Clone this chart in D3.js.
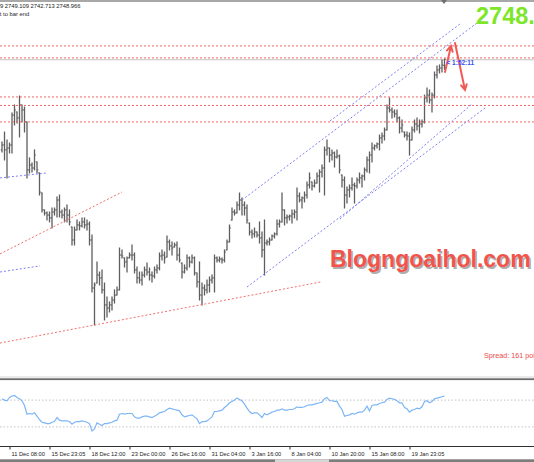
<!DOCTYPE html>
<html>
<head>
<meta charset="utf-8">
<script src="https://cdn.jsdelivr.net/npm/d3@7/dist/d3.min.js"></script>
<style>
  body { margin: 0; background: #fff; }
  svg { display: block; }
</style>
</head>
<body>
<div class="chart"></div>
<script>
// XAUUSD H4 bars (open / high / low / close)
var opens = [
  2692.3, 2695.4, 2692.3, 2693.5, 2695.4, 2714.1, 2716.0, 2712.3, 2720.4, 2717.3,
  2709.8, 2679.8, 2682.9, 2681.0, 2684.8, 2677.9, 2665.4, 2654.8, 2652.9, 2651.6,
  2649.8, 2653.5, 2654.8, 2661.0, 2653.5, 2651.6, 2654.8, 2651.6, 2644.1, 2636.0,
  2642.3, 2645.4, 2644.8, 2647.3, 2645.4, 2646.0, 2636.0, 2606.0, 2609.1, 2614.1,
  2612.3, 2604.8, 2595.4, 2593.5, 2595.4, 2598.5, 2601.6, 2604.8, 2626.6, 2624.8,
  2622.3, 2624.8, 2626.6, 2626.6, 2617.3, 2612.3, 2611.0, 2614.1, 2617.3, 2616.0,
  2614.1, 2613.5, 2617.3, 2618.5, 2626.0, 2626.6, 2625.4, 2634.8, 2632.3, 2631.6,
  2632.9, 2626.6, 2621.6, 2616.0, 2618.5, 2624.8, 2622.3, 2624.8, 2615.4, 2609.8,
  2601.6, 2606.0, 2604.8, 2607.9, 2611.0, 2612.3, 2624.8, 2623.5, 2624.1, 2623.5,
  2629.8, 2634.8, 2648.5, 2653.5, 2652.9, 2657.9, 2661.0, 2657.9, 2656.0, 2646.6,
  2641.0, 2639.8, 2641.0, 2639.1, 2637.3, 2629.8, 2634.1, 2634.8, 2636.0, 2638.5,
  2639.8, 2646.0, 2647.3, 2654.8, 2649.8, 2650.4, 2651.0, 2652.3, 2653.5, 2663.5,
  2661.0, 2662.3, 2664.1, 2670.4, 2672.3, 2669.8, 2671.6, 2676.0, 2678.5, 2681.0,
  2692.3, 2693.5, 2689.1, 2690.4, 2687.9, 2688.5, 2676.6, 2673.5, 2664.1, 2667.3,
  2668.5, 2670.4, 2669.8, 2673.5, 2674.8, 2676.0, 2679.8, 2686.0, 2689.1, 2693.5,
  2694.8, 2696.0, 2699.8, 2701.0, 2704.8, 2718.5, 2717.3, 2716.0, 2714.8, 2712.3,
  2706.0, 2703.5, 2701.6, 2701.0, 2698.5, 2704.8, 2708.5, 2707.3, 2708.5, 2709.8,
  2724.8, 2726.6, 2723.5, 2726.6, 2739.1, 2742.3, 2743.5, 2745.109
];
var highs = [
  2697.3, 2703.5, 2698.5, 2696.6, 2715.4, 2720.4, 2716.0, 2726.0, 2720.4, 2719.1,
  2709.8, 2687.3, 2684.1, 2692.3, 2684.8, 2677.9, 2665.4, 2654.8, 2653.5, 2653.5,
  2656.0, 2656.0, 2662.9, 2664.1, 2654.8, 2656.0, 2657.9, 2654.8, 2644.1, 2644.1,
  2648.5, 2647.3, 2649.8, 2649.8, 2648.5, 2647.3, 2639.1, 2609.1, 2622.3, 2616.0,
  2617.3, 2609.1, 2600.4, 2597.3, 2600.4, 2604.8, 2606.6, 2631.0, 2629.8, 2624.8,
  2625.4, 2627.9, 2632.9, 2627.9, 2619.1, 2616.0, 2616.0, 2619.1, 2621.6, 2618.5,
  2616.0, 2619.1, 2620.4, 2627.9, 2629.8, 2628.5, 2638.5, 2636.0, 2634.8, 2634.1,
  2634.8, 2631.0, 2621.6, 2620.4, 2626.6, 2625.4, 2626.6, 2625.4, 2615.4, 2622.3,
  2609.1, 2607.9, 2611.0, 2612.9, 2614.1, 2626.6, 2625.4, 2625.4, 2624.8, 2629.8,
  2636.0, 2645.4, 2656.0, 2654.8, 2659.8, 2665.4, 2662.3, 2659.8, 2657.9, 2646.6,
  2642.3, 2643.5, 2641.0, 2647.3, 2641.0, 2648.5, 2636.0, 2637.3, 2639.1, 2640.4,
  2648.5, 2648.5, 2665.4, 2654.8, 2651.6, 2651.6, 2654.8, 2654.8, 2668.5, 2665.4,
  2662.9, 2666.0, 2672.3, 2677.9, 2672.3, 2673.5, 2677.9, 2679.8, 2682.9, 2694.1,
  2698.5, 2693.5, 2692.3, 2691.0, 2692.3, 2689.1, 2676.6, 2675.4, 2669.1, 2670.4,
  2674.8, 2671.6, 2674.8, 2677.9, 2676.6, 2681.0, 2687.9, 2691.0, 2696.6, 2695.4,
  2696.6, 2701.6, 2702.9, 2706.0, 2720.4, 2724.8, 2718.5, 2717.3, 2717.3, 2712.9,
  2711.0, 2703.5, 2703.5, 2702.9, 2706.6, 2711.0, 2712.3, 2711.0, 2711.0, 2726.6,
  2731.0, 2729.8, 2727.9, 2741.0, 2744.8, 2745.4, 2748.5, 2749.109
];
var lows = [
  2691.0, 2686.0, 2674.8, 2690.4, 2690.4, 2707.9, 2709.1, 2700.4, 2709.8, 2703.5,
  2674.8, 2677.9, 2678.5, 2679.8, 2677.9, 2664.1, 2653.5, 2651.6, 2648.5, 2647.3,
  2643.5, 2651.6, 2650.4, 2650.4, 2649.8, 2647.3, 2647.3, 2645.4, 2632.9, 2632.9,
  2642.3, 2642.3, 2644.1, 2643.5, 2642.3, 2632.9, 2603.5, 2582.9, 2609.1, 2607.9,
  2602.9, 2586.0, 2587.9, 2591.0, 2592.3, 2596.6, 2601.6, 2604.8, 2624.8, 2619.1,
  2616.0, 2624.8, 2623.5, 2615.4, 2609.1, 2609.1, 2607.9, 2612.9, 2614.1, 2611.0,
  2609.8, 2612.3, 2615.4, 2617.3, 2623.5, 2621.6, 2625.4, 2629.8, 2626.6, 2631.6,
  2623.5, 2622.3, 2612.3, 2615.4, 2617.3, 2619.1, 2621.6, 2614.1, 2606.6, 2598.5,
  2595.4, 2601.6, 2602.9, 2603.5, 2609.1, 2603.5, 2622.3, 2622.3, 2621.6, 2622.3,
  2629.8, 2634.8, 2648.5, 2651.6, 2652.9, 2654.8, 2651.6, 2651.6, 2646.6, 2639.1,
  2637.3, 2637.9, 2637.9, 2634.1, 2625.4, 2614.1, 2632.9, 2632.9, 2636.0, 2637.3,
  2639.1, 2644.1, 2647.3, 2645.4, 2646.6, 2648.5, 2646.6, 2649.8, 2648.5, 2659.8,
  2656.0, 2659.8, 2662.3, 2668.5, 2667.3, 2669.1, 2671.6, 2666.0, 2675.4, 2664.1,
  2689.1, 2684.8, 2686.0, 2681.6, 2687.3, 2677.9, 2669.1, 2656.0, 2659.1, 2662.9,
  2667.3, 2659.1, 2668.5, 2671.6, 2669.1, 2673.5, 2678.5, 2677.9, 2684.8, 2692.3,
  2693.5, 2692.3, 2696.6, 2698.5, 2704.8, 2716.0, 2712.3, 2712.9, 2709.8, 2702.9,
  2703.5, 2700.4, 2698.5, 2689.1, 2698.5, 2703.5, 2704.8, 2702.9, 2706.6, 2709.1,
  2722.3, 2721.6, 2716.0, 2724.8, 2737.3, 2740.4, 2741.0, 2742.713
];
var closes = [
  2695.4, 2692.3, 2693.5, 2695.4, 2714.1, 2717.3, 2712.3, 2720.4, 2717.3, 2709.8,
  2679.8, 2682.9, 2681.0, 2689.1, 2679.8, 2666.0, 2654.8, 2652.9, 2651.6, 2649.8,
  2653.5, 2654.8, 2661.0, 2653.5, 2651.6, 2654.8, 2651.6, 2647.3, 2636.0, 2642.3,
  2645.4, 2644.8, 2647.3, 2645.4, 2646.0, 2636.0, 2606.0, 2607.9, 2614.1, 2612.3,
  2604.8, 2595.4, 2593.5, 2595.4, 2598.5, 2601.6, 2604.8, 2626.6, 2626.0, 2622.3,
  2624.8, 2626.6, 2626.6, 2617.3, 2612.3, 2611.0, 2614.1, 2617.3, 2616.0, 2614.1,
  2613.5, 2617.3, 2618.5, 2626.0, 2626.6, 2624.8, 2634.8, 2632.3, 2631.0, 2632.9,
  2626.6, 2623.5, 2616.0, 2618.5, 2624.8, 2622.3, 2624.8, 2615.4, 2609.8, 2601.6,
  2606.0, 2604.8, 2607.9, 2611.0, 2612.3, 2624.8, 2623.5, 2624.1, 2623.5, 2628.5,
  2634.8, 2643.5, 2653.5, 2652.9, 2657.9, 2661.0, 2657.9, 2656.0, 2648.5, 2641.0,
  2639.8, 2641.0, 2639.1, 2637.3, 2629.8, 2634.1, 2634.8, 2636.0, 2638.5, 2639.8,
  2646.0, 2647.3, 2654.8, 2649.8, 2650.4, 2651.0, 2652.3, 2653.5, 2663.5, 2661.0,
  2662.3, 2664.1, 2670.4, 2674.8, 2669.8, 2671.6, 2676.0, 2678.5, 2681.0, 2692.3,
  2693.5, 2689.1, 2690.4, 2687.9, 2688.5, 2679.8, 2673.5, 2664.1, 2667.3, 2668.5,
  2670.4, 2669.8, 2673.5, 2674.8, 2676.0, 2679.8, 2686.0, 2689.1, 2693.5, 2694.8,
  2696.0, 2699.8, 2701.0, 2704.8, 2718.5, 2717.3, 2716.0, 2714.8, 2712.3, 2706.0,
  2707.9, 2701.6, 2701.0, 2698.5, 2704.8, 2708.5, 2707.3, 2708.5, 2709.8, 2724.8,
  2726.6, 2723.5, 2726.6, 2739.1, 2742.3, 2743.5, 2745.4, 2748.966
];

// RSI sub window, one value per bar
var rsiValues = [
  72, 70, 69, 74, 76, 77, 74, 72, 69, 62,
  49, 50, 49, 51, 46, 41, 37, 36, 35, 35,
  37, 38, 44, 40, 39, 39, 39, 38, 34, 37,
  38, 38, 39, 38, 37, 35, 24, 27, 36, 34,
  32, 35, 35, 36, 37, 39, 40, 49, 50, 49,
  50, 50, 50, 45, 43, 43, 45, 46, 46, 45,
  44, 46, 48, 51, 52, 53, 56, 58, 57, 56,
  55, 54, 48, 45, 46, 47, 48, 45, 42, 35,
  38, 38, 39, 42, 45, 53, 53, 54, 55, 59,
  62, 66, 68, 70, 73, 71, 69, 64, 58, 53,
  50, 51, 51, 48, 44, 50, 48, 50, 52, 53,
  55, 55, 57, 55, 55, 56, 56, 57, 60, 59,
  59, 60, 62, 63, 63, 64, 65, 66, 67, 72,
  74, 69, 69, 68, 68, 61, 56, 46, 47, 48,
  50, 49, 51, 52, 52, 55, 61, 54, 62, 63,
  63, 65, 66, 67, 71, 73, 72, 71, 69, 66,
  66, 59, 57, 52, 55, 56, 58, 57, 60, 68,
  69, 66, 68, 72, 73, 74, 75, 76
];
var rsiLevels = [70, 30];

// time axis: bar index of each label
var tickBars = [3, 19, 35, 51, 67, 83, 99, 115, 131, 147, 163];
var tickLabels = ["11 Dec 08:00", "15 Dec 23:05", "18 Dec 12:00", "23 Dec 00:00",
  "26 Dec 16:00", "31 Dec 04:00", "3 Jan 16:00", "8 Jan 04:00", "10 Jan 20:00",
  "15 Jan 08:00", "19 Jan 23:05"];

// horizontal levels and trend lines (bar index, price)
var redLevels = [2757.3, 2749.8, 2725.4, 2720.1, 2709.8];
var blueLines = [
  [-0.8, 2674.8, 18, 2677.9],
  [-0.8, 2616.0, 15.2, 2619.8],
  [96, 2661.0, 193.2, 2775.4],
  [131.2, 2710.4, 183.2, 2771.0],
  [98, 2606.6, 193.2, 2718.5],
  [135.2, 2649.1, 188, 2721.0]
];
var redLines = [
  [-0.8, 2627.3, 48, 2666.0],
  [-0.8, 2571.6, 127.6, 2609.8]
];
var arrows = [
  [177.2, 2741.0, 179.6, 2757.3],
  [181.2, 2759.1, 185.2, 2729.8]
];

var bars = opens.map(function(o, i) {
  return { i: i, o: o, h: highs[i], l: lows[i], c: closes[i] };
});
var lastBar = bars[bars.length - 1];

var W = 534, H = 462;
var svg = d3.select(".chart").append("svg")
  .attr("width", W)
  .attr("height", H)
  .style("font-family", "'Liberation Sans', Arial, sans-serif");

svg.append("rect").attr("width", W).attr("height", H).attr("fill", "#fff");

svg.append("defs").append("clipPath").attr("id", "clipMain")
  .append("rect").attr("x", 0).attr("y", 2).attr("width", W).attr("height", 375);

// scales
var x = d3.scaleLinear().domain([0, bars.length - 1]).range([2, 444.5]);
var y = d3.scaleLinear().domain([2549.75, 2786]).range([378, 0]);
var yRsi = d3.scaleLinear().domain([0, 100]).range([447, 380]);

var main = svg.append("g").attr("clip-path", "url(#clipMain)");

// bid line
main.append("line")
  .attr("x1", 0).attr("x2", W)
  .attr("y1", y(lastBar.c) + 0.5).attr("y2", y(lastBar.c) + 0.5)
  .attr("stroke", "#c4c4c4").attr("stroke-width", 1.2);

// price bars
var barG = main.append("g").attr("stroke", "#5e5e5e");
barG.selectAll("line.hl").data(bars).enter().append("line")
  .attr("class", "hl")
  .attr("x1", d => x(d.i)).attr("x2", d => x(d.i))
  .attr("y1", d => y(d.h) - 0.5).attr("y2", d => y(d.l) + 0.5)
  .attr("stroke-width", 1.3);
barG.selectAll("line.op").data(bars).enter().append("line")
  .attr("class", "op")
  .attr("x1", d => x(d.i) - 1.3).attr("x2", d => x(d.i))
  .attr("y1", d => y(d.o)).attr("y2", d => y(d.o))
  .attr("stroke-width", 1);
barG.selectAll("line.cl").data(bars).enter().append("line")
  .attr("class", "cl")
  .attr("x1", d => x(d.i)).attr("x2", d => x(d.i) + 1.3)
  .attr("y1", d => y(d.c)).attr("y2", d => y(d.c))
  .attr("stroke-width", 1);

// red dotted levels
main.selectAll("line.lvl").data(redLevels).enter().append("line")
  .attr("class", "lvl")
  .attr("x1", 0).attr("x2", W)
  .attr("y1", d => y(d)).attr("y2", d => y(d))
  .attr("stroke", "#f06464").attr("stroke-width", 1)
  .attr("stroke-dasharray", "2,2");

// trend lines
function trend(g, data, color) {
  g.selectAll(null).data(data).enter().append("line")
    .attr("x1", d => x(d[0])).attr("y1", d => y(d[1]))
    .attr("x2", d => x(d[2])).attr("y2", d => y(d[3]))
    .attr("stroke", color).attr("stroke-width", 1)
    .attr("stroke-dasharray", "2,2");
}
trend(main, blueLines, "#7f7ff5");
trend(main, redLines, "#f27070");

// red arrows
arrows.forEach(function(a) {
  var x1 = x(a[0]), y1 = y(a[1]), x2 = x(a[2]), y2 = y(a[3]);
  var ang = Math.atan2(y2 - y1, x2 - x1);
  var len = 6;
  var path = d3.path();
  path.moveTo(x1, y1);
  path.lineTo(x2, y2);
  path.moveTo(x2 - len * Math.cos(ang - 0.5), y2 - len * Math.sin(ang - 0.5));
  path.lineTo(x2, y2);
  path.lineTo(x2 - len * Math.cos(ang + 0.5), y2 - len * Math.sin(ang + 0.5));
  main.append("path").attr("d", path.toString())
    .attr("fill", "none").attr("stroke", "#f05a55")
    .attr("stroke-width", 2).attr("stroke-linecap", "round");
});

// time left label next to the last bar
main.append("text")
  .attr("x", x(lastBar.i) + 2).attr("y", y(lastBar.c) + 6)
  .attr("font-size", 6.5).attr("font-weight", "bold")
  .attr("fill", "#3b4cf0")
  .text("< 1:52:11");

// watermark
var wm = main.append("g");
wm.append("text")
  .attr("x", 331.5).attr("y", 268.5)
  .attr("font-size", 23).attr("font-weight", "bold")
  .attr("fill", "#9a9a9a").attr("opacity", 0.8)
  .text("Blogngoaihol.com");
wm.append("text")
  .attr("x", 330).attr("y", 267)
  .attr("font-size", 23).attr("font-weight", "bold")
  .attr("fill", "#f2544b")
  .text("Blogngoaihol.com");

// spread text
main.append("text")
  .attr("x", 484).attr("y", 358)
  .attr("font-size", 7.2).attr("fill", "#ea4b4b")
  .text("Spread: 161 points");

// big price label
svg.append("text")
  .attr("x", 476).attr("y", 23.5)
  .attr("font-size", 23.5).attr("font-weight", "bold")
  .attr("fill", "#7de628")
  .text(d3.format(".2f")(lastBar.c));

// header text
svg.append("text")
  .attr("x", -21).attr("y", 8.3)
  .attr("font-size", 5.8).attr("fill", "#222")
  .text([lastBar.o, lastBar.h, lastBar.l, lastBar.c].map(d3.format(".3f")).join(" "));
svg.append("text")
  .attr("x", -20.6).attr("y", 16.4)
  .attr("font-size", 5.8).attr("fill", "#222")
  .text("Time left to bar end");

// top border + shift marker
svg.append("line").attr("x1", 0).attr("x2", W).attr("y1", 1).attr("y2", 1)
  .attr("stroke", "#a8a8a8").attr("stroke-width", 2);
svg.append("path").attr("d", "M441,0 L447,0 L444,4 Z").attr("fill", "#707070");

// separator between price and RSI window
svg.append("line").attr("x1", 0).attr("x2", W).attr("y1", 377).attr("y2", 377)
  .attr("stroke", "#d4d4d4").attr("stroke-width", 1);
svg.append("rect").attr("x", 0).attr("y", 378.3).attr("width", W).attr("height", 1.8)
  .attr("fill", "#6c6c6c");

// RSI window
svg.selectAll("line.rl").data(rsiLevels).enter().append("line")
  .attr("class", "rl")
  .attr("x1", 0).attr("x2", W)
  .attr("y1", d => yRsi(d)).attr("y2", d => yRsi(d))
  .attr("stroke", "#c2c2c2").attr("stroke-width", 1)
  .attr("stroke-dasharray", "1.5,2");

var rsiLine = d3.line()
  .x((d, i) => x(i))
  .y(d => yRsi(d));
svg.append("path")
  .datum(rsiValues)
  .attr("d", rsiLine)
  .attr("fill", "none")
  .attr("stroke", "#7db6f6")
  .attr("stroke-width", 1.2);

// time axis
svg.append("line").attr("x1", 0).attr("x2", W).attr("y1", 446.5).attr("y2", 446.5)
  .attr("stroke", "#303030").attr("stroke-width", 1);

var xAxis = d3.axisBottom(x)
  .tickValues(tickBars)
  .tickFormat((d, k) => tickLabels[k])
  .tickSize(3);

var axisG = svg.append("g")
  .attr("transform", "translate(0,446.5)")
  .call(xAxis);
axisG.select(".domain").remove();
axisG.selectAll(".tick line").attr("stroke", "#303030");
axisG.selectAll(".tick text")
  .attr("text-anchor", "start")
  .attr("x", 1.5).attr("y", 5)
  .attr("font-size", 5.7)
  .attr("font-family", "'Liberation Sans', Arial, sans-serif")
  .attr("fill", "#222");

// bottom strip
svg.append("rect").attr("x", 0).attr("y", 459.3).attr("width", W).attr("height", 3)
  .attr("fill", "#7d7d7d");
svg.append("rect").attr("x", 275).attr("y", 459.3).attr("width", 54).attr("height", 3)
  .attr("fill", "#d6d6d6");
</script>
</body>
</html>
